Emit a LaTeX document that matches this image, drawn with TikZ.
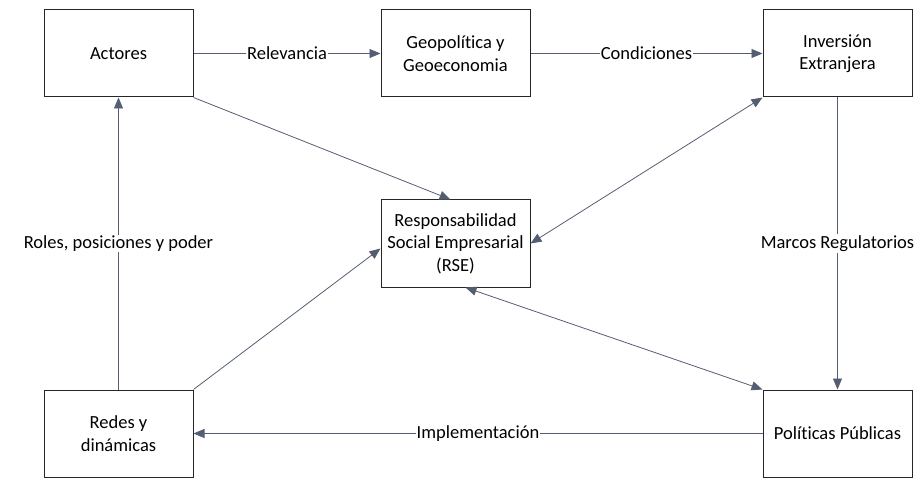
\documentclass[tikz,border=0pt]{standalone}
\usepackage{fontspec}
\setmainfont{Carlito}[Ligatures=NoCommon]
\usetikzlibrary{arrows.meta,positioning}
\definecolor{linkgray}{RGB}{84,94,114}

\begin{document}
\begin{tikzpicture}[x=1pt,y=-1pt,node distance=1pt,on grid,
  box/.style ={draw=black!85,line width=1pt,minimum width=149pt,
               minimum height=87pt,align=center,font=\fontsize{18.5}{22.5}\selectfont},
  flow/.style={-{Triangle[length=11pt,width=9pt]},draw=linkgray,line width=0.8pt},
  both/.style={{Triangle[length=11pt,width=9pt]}-{Triangle[length=11pt,width=9pt]},
               draw=linkgray,line width=0.8pt},
  lbl/.style ={fill=white,inner sep=1pt,text=black,font=\fontsize{18.5}{22.5}\selectfont}]
  \useasboundingbox (0,0) rectangle (924,481);
  \node[box]          (A)                       at (118.5,53.5) {Actores};
  \node[box]          (G) [right=337pt of A]    {Geopolítica y\\Geoeconomia};
  \node[box]          (I) [right=382pt of G]    {Inversión\\Extranjera};
  \node[box]          (R) [below=190pt of G]    {Responsabilidad\\Social Empresarial\\(RSE)};
  \node[box]          (D) [below=380pt of A]    {Redes y\\dinámicas};
  \node[box]          (P) [below=380pt of I]    {Políticas Públicas};
\path (A)    edge [flow]   node[lbl] {Relevancia}    (G)
      (G)    edge [flow]   node[lbl] {Condiciones}   (I)
      (I)    edge [flow]   node[lbl] {Marcos Regulatorios} (P)
      (P)    edge [flow]   node[lbl] {Implementación} (D)
      (D)    edge [flow]   node[lbl] {Roles, posiciones y poder} (A);
\path (A.south east)  edge [flow]   ([xshift=-5pt]R.north)
      (D.north east)  edge [flow]   ([yshift=-5pt]R.west);
\path (I.south west)  edge [both]   (R.east)
      (P.north west)  edge [both]   ([xshift=10pt]R.south);
\end{tikzpicture}
\end{document}
